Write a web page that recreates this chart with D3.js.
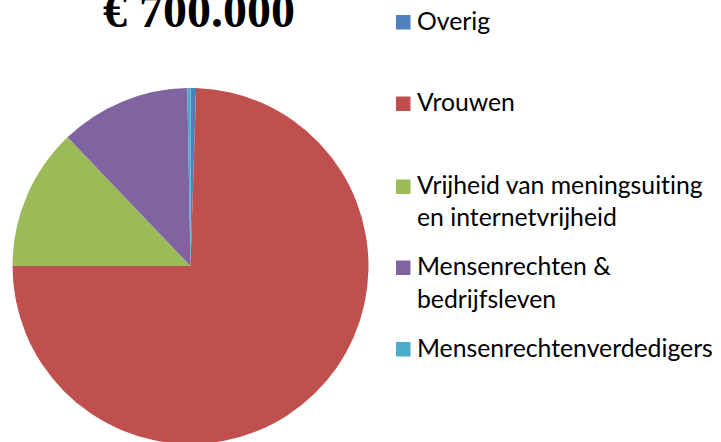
<!DOCTYPE html>
<html><head><meta charset="utf-8">
<script src="https://cdn.jsdelivr.net/npm/d3@7"></script>
<style>html,body{margin:0;padding:0;background:#fff;overflow:hidden} text{font-variant-ligatures:none;font-feature-settings:"liga" 0,"clig" 0}</style>
</head><body>
<script>
const title = "€ 700.000";
const categories = ["Overig","Vrouwen","Vrijheid van meningsuiting en internetvrijheid","Mensenrechten & bedrijfsleven","Mensenrechtenverdedigers"];
const legendLines = [["Overig"],["Vrouwen"],["Vrijheid van meningsuiting","en internetvrijheid"],["Mensenrechten &","bedrijfsleven"],["Mensenrechtenverdedigers"]];
const values = [3500, 521500, 90000, 83000, 2000];
const colors = ["#4F81BD","#C0504D","#9BBB59","#8064A2","#4BACC6"];

const W = 721, H = 442;
const svg = d3.select("body").append("svg").attr("width", W).attr("height", H);

const cx = 190.5, cy = 266, r = 178;
const pie = d3.pie().sort(null).value(d => d)(values);
const arc = d3.arc().innerRadius(0).outerRadius(r);
svg.append("g").attr("transform", `translate(${cx},${cy})`)
  .selectAll("path").data(pie).join("path")
  .attr("d", arc).attr("fill", (d,i) => colors[i]);

svg.append("text").attr("x", 199).attr("y", 27).attr("text-anchor","middle")
  .attr("font-family","'Liberation Serif','Times New Roman',serif")
  .attr("font-weight","bold").attr("font-size", 48).attr("fill","#000").text(title);

const font = "Lato, 'Open Sans', sans-serif";
const probe = svg.append("text").attr("font-family", font).attr("font-size", 100).text("Mensenrechtenverdedigers");
const pw = probe.node().getComputedTextLength();
probe.remove();
const fs = 296 / pw * 100;

const baselines = [[29.5],[111],[194,225.5],[275,307.5],[356.5]];
const lg = svg.append("g");
legendLines.forEach((lines, i) => {
  lg.append("rect").attr("x", 396).attr("y", baselines[i][0] - 14.5).attr("width", 14.5).attr("height", 14.5).attr("fill", colors[i]);
  lines.forEach((t, j) => {
    lg.append("text").attr("x", 417).attr("y", baselines[i][j]).attr("font-family", font)
      .attr("font-size", fs).attr("fill", "#000").text(t);
  });
});
</script>
</body></html>
